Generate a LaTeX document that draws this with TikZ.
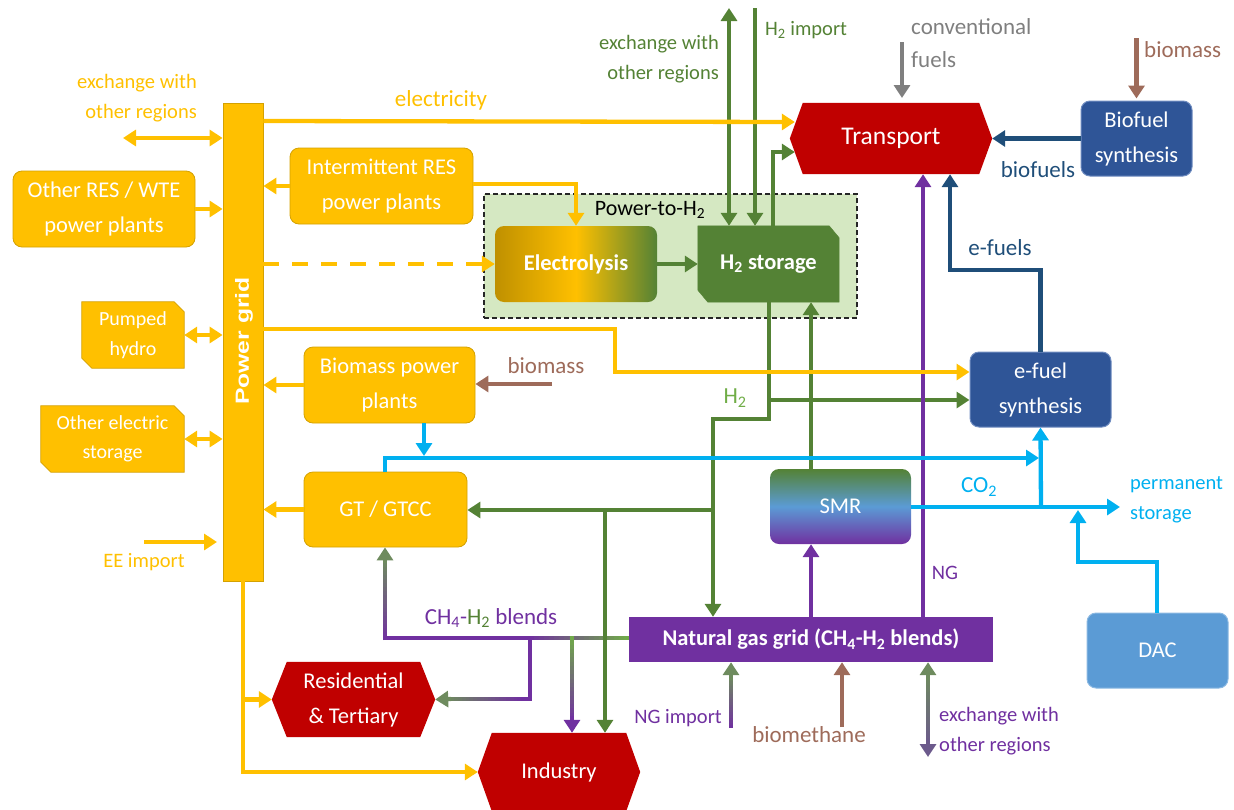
\documentclass[tikz,border=0pt]{standalone}
\usepackage{fontspec}
\setmainfont{Carlito}
\newfontfamily\gridfont{Liberation Sans}
\usetikzlibrary{arrows.meta,calc,backgrounds}

\definecolor{cYel}{HTML}{FFC000}
\definecolor{cYelD}{HTML}{D4A100}
\definecolor{cGold}{HTML}{BF9000}
\definecolor{cGrn}{HTML}{548235}
\definecolor{cGrnL}{HTML}{70AD47}
\definecolor{cGrnG}{HTML}{6E8B5E}
\definecolor{cRed}{HTML}{C00000}
\definecolor{cBlu}{HTML}{2F5597}
\definecolor{cBluL}{HTML}{6F8CC0}
\definecolor{cBluD}{HTML}{1F4E79}
\definecolor{cCya}{HTML}{00B0F0}
\definecolor{cPur}{HTML}{7030A0}
\definecolor{cPurG}{HTML}{6C5A8C}
\definecolor{cBrn}{HTML}{9E6B5A}
\definecolor{cGry}{HTML}{7F7F7F}
\definecolor{cDac}{HTML}{5B9BD5}
\definecolor{cPtH}{HTML}{D5E8C2}

\newcommand\fntBox{\fontsize{22.5}{35}\selectfont}
\newcommand\fntBoxB{\fontsize{22.5}{35}\selectfont\bfseries}
\newcommand\fntSmall{\fontsize{20}{29.5}\selectfont}
\newcommand\fntLab{\fontsize{20.5}{29.5}\selectfont}
\newcommand\fntLabB{\fontsize{23}{33}\selectfont}

% a straight stroke whose colour runs from #3 to #4
\newcommand\gradline[4]{%
  \foreach \k in {0,...,19}{%
    \pgfmathsetmacro\gA{\k/20}%
    \pgfmathsetmacro\gB{min((\k+1.4)/20,1)}%
    \pgfmathtruncatemacro\gP{100-(\k+0.5)*5}%
    \draw[line width=4.3pt,draw={#3!\gP!#4}] ($#1!\gA!#2$) -- ($#1!\gB!#2$);}}

% hexagonal outline with pointed left and right ends
\newcommand\hexfill[3]{%
  \fill[#3] (#1.west) -- ([xshift=#2]#1.north west) -- ([xshift=-#2]#1.north east)
    -- (#1.east) -- ([xshift=-#2]#1.south east) -- ([xshift=#2]#1.south west) -- cycle;}

% box with the top-right and bottom-left corners cut off
\newcommand\cutfill[4]{%
  \filldraw[#4] (#1.north west) -- ([xshift=-#2]#1.north east) -- ([yshift=-#3]#1.north east)
    -- (#1.south east) -- ([xshift=#2]#1.south west) -- ([yshift=#3]#1.south west) -- cycle;}

\tikzset{
  flow/.style={line width=4.3pt,-{Triangle[length=13pt,width=16pt]}},
  dflow/.style={line width=4.3pt,{Triangle[length=13pt,width=16pt]}-{Triangle[length=13pt,width=16pt]}},
  seg/.style={line width=4.3pt},
  rbox/.style={rounded corners=9pt,text=white,align=center,font=\fntBox,inner sep=0pt},
  ybox/.style={rbox,fill=cYel,draw=cYelD,line width=0.8pt},
  bbox/.style={rbox,fill=cBlu,draw=cBluL,line width=1pt},
  sbox/.style={text=white,align=center,inner sep=0pt,font=\fntBox},
  lab/.style={font=\fntLab,align=center,inner sep=0pt},
  labB/.style={font=\fntLabB,align=center,inner sep=0pt},
}

\begin{document}
\begin{tikzpicture}[x=1pt,y=-1pt]
\useasboundingbox (0,0) rectangle (1234,809);

% ---------- nodes ----------
\node[fill=cYel,draw=cYelD,line width=0.8pt,minimum width=40pt,minimum height=478pt,inner sep=0pt] (pg) at (243,342) {};
\node[text=white,rotate=90,inner sep=0pt,font=\gridfont\bfseries\fontsize{19}{19}\selectfont] (pglab) at (244,341) {\scalebox{1.3}[1]{Power grid}};

\node[ybox,minimum width=182pt,minimum height=76pt] (ores) at (104,209) {Other RES / WTE\\power plants};
\node[ybox,minimum width=183pt,minimum height=76pt] (irp) at (381.5,186) {Intermittent RES\\power plants};
\node[ybox,minimum width=171pt,minimum height=76pt] (bpp) at (389.5,385) {Biomass power\\plants};
\node[ybox,minimum width=163pt,minimum height=75pt] (gt) at (385.5,509.5) {GT / GTCC};
\node[sbox,font=\fntSmall,minimum width=102pt,minimum height=66pt] (ph) at (133,335) {Pumped\\hydro};
\node[sbox,font=\fntSmall,minimum width=143pt,minimum height=66pt] (oes) at (112.5,439) {Other electric\\storage};

\node[rbox,font=\fntBoxB,left color=cGold,right color=cGrn,middle color=cYel,minimum width=162pt,minimum height=76pt] (ely) at (576,264) {Electrolysis};
\node[sbox,font=\fntBoxB,minimum width=141pt,minimum height=76pt] (h2s) at (768.5,264) {H\textsubscript{2} storage};

\node[sbox,font=\fontsize{25.5}{30}\selectfont,minimum width=202pt,minimum height=71pt] (tr) at (891,138.5) {Transport};
\node[bbox,minimum width=111pt,minimum height=75pt] (bfs) at (1136.5,138.5) {Biofuel\\synthesis};
\node[bbox,minimum width=141pt,minimum height=75pt] (efs) at (1040.5,389.5) {e-fuel\\synthesis};
\node[rbox,top color=cGrn,bottom color=cPur,middle color=cDac,minimum width=141pt,minimum height=75pt] (smr) at (840.5,506.5) {SMR};
\node[rbox,fill=cDac,draw=cDac!70!white,line width=1pt,minimum width=141pt,minimum height=75pt] (dac) at (1157.5,650.5) {DAC};
\node[fill=cPur,text=white,font=\fntBoxB,minimum width=364pt,minimum height=45pt,inner sep=0pt] (ngg) at (811,639.5) {Natural gas grid (CH\textsubscript{4}-H\textsubscript{2} blends)};
\node[sbox,minimum width=163pt,minimum height=75pt] (rt) at (353.5,699.5) {Residential\\\& Tertiary};
\node[sbox,minimum width=162pt,minimum height=78pt] (ind) at (559,772) {Industry};

% ---------- labels ----------
\node[lab,text=cYel,anchor=east,align=right] (lExY) at (197,98) {exchange with\\other regions};
\node[labB,text=cYel] (lElec) at (441,100) {electricity};
\node[lab,text=cYel] (lEE) at (144,562) {EE import};
\node[lab,text=cGrn,anchor=east,align=right] (lExG) at (719,59) {exchange with\\other regions};
\node[lab,text=cGrn,anchor=west] (lH2imp) at (765,30) {H\textsubscript{2} import};
\node[font=\fontsize{22}{25}\selectfont,inner sep=0pt] (lPtH) at (650,210) {Power-to-H\textsubscript{2}};
\node[labB,text=cGry,anchor=west,align=left] (lConv) at (911,43.5) {conventional\\fuels};
\node[labB,text=cBrn,anchor=west] (lBio1) at (1144,50) {biomass};
\node[labB,text=cBluD] (lBiof) at (1038,170) {biofuels};
\node[labB,text=cBluD] (lEf) at (1000,248) {e-fuels};
\node[labB,text=cGrnL] (lH2) at (735,398) {H\textsubscript{2}};
\node[labB,text=cBrn] (lBio2) at (546,366) {biomass};
\node[labB,text=cCya] (lCO2) at (979,487) {CO\textsubscript{2}};
\node[lab,text=cCya,anchor=west,align=left] (lPerm) at (1130,500) {permanent\\storage};
\node[lab,text=cPur] (lNG) at (945,573) {NG};
\node[labB] (lBlend) at (491,618) {\textcolor{cPur}{CH\textsubscript{4}-}\textcolor{cGrn}{H\textsubscript{2}} \textcolor{cPur}{blends}};
\node[lab,text=cPur,anchor=east] (lNGimp) at (722,718) {NG import};
\node[labB,text=cBrn] (lBiom) at (809,735) {biomethane};
\node[lab,text=cPur,anchor=west,align=left] (lExP) at (939,731) {exchange with\\other regions};

% ---------- named end points ----------
\coordinate (trIn1) at ([xshift=5pt,yshift=16.5pt]tr.west);
\coordinate (trIn2) at ([xshift=5pt,yshift=-13.5pt]tr.west);

% ---------- hydrogen (green) ----------
\draw[flow,cGrn] (ely.east) -- (h2s.west);
\draw[dflow,cGrn] (729,8) -- (h2s.north -| 729,0);
\draw[flow,cGrn] (755,8) -- (h2s.north -| 755,0);
\draw[flow,cGrn] (h2s.north -| 773,0) -- (773,152) -- (trIn2);
\draw[flow,cGrn] (h2s.south -| 769,0) -- (769,419) -- (713,419) -- (ngg.north -| 713,0);
\draw[flow,cGrn] (769,400) -- (efs.west |- 0,400);
\draw[flow,cGrn] (smr.north -| 811,0) -- (h2s.south -| 811,0);
\draw[flow,cGrn] (713,510) -- (gt.east |- 0,510);

% ---------- CH4-H2 blends ----------
\gradline{(629,638)}{(529,638)}{cGrnL}{cPur}
\draw[seg,cPur] (531,638) -- (383,638);
\gradline{(385,640)}{(385,559)}{cPur}{cGrnG}
\draw[flow,cGrnG] (385,563) -- (gt.south -| 385,0);
\draw[seg,cPur] (530,638) -- (530,699) -- (519,699);
\gradline{(521,699)}{(447,699)}{cPur}{cGrnG}
\draw[flow,cGrnG] (451,699) -- (rt.east);
\gradline{(572,636)}{(572,721)}{cGrnL}{cPur}
\draw[flow,cPur] (572,716) -- (ind.north -| 572,0);
\draw[flow,cGrn] (605,510) -- (ind.north -| 605,0);

% ---------- natural gas (purple) ----------
\draw[flow,cPur] (ngg.north -| 811,0) -- (smr.south -| 811,0);
\draw[flow,cPur] (ngg.north -| 923,0) -- (tr.south -| 923,0);
\gradline{(731,728)}{(731,676)}{cPur}{cGrnG}
\draw[flow,cGrnG] (731,680) -- (ngg.south -| 731,0);
\gradline{(928,674)}{(928,745)}{cGrnG}{cPurG}
\draw[flow,cGrnG] (928,680) -- (ngg.south -| 928,0);
\draw[flow,cPurG] (928,740) -- (928,757);
\draw[flow,cBrn] (842,727) -- (ngg.south -| 842,0);

% ---------- electricity (yellow) ----------
\draw[dflow,cYel] (123,138) -- (pg.west |- 0,138);
\draw[flow,cYel] (ores.east) -- (ores.east -| pg.west);
\draw[flow,cYel] (irp.west) -- (irp.west -| pg.east);
\draw[dflow,cYel] (ph.east) -- (ph.east -| pg.west);
\draw[dflow,cYel] (oes.east) -- (oes.east -| pg.west);
\draw[flow,cYel] (bpp.west) -- (bpp.west -| pg.east);
\draw[flow,cYel] (gt.west) -- (gt.west -| pg.east);
\draw[flow,cYel] (144,542) -- (217,542);
\draw[flow,cYel] (pg.east |- 0,121) -- (trIn1);
\draw[flow,cYel] ([yshift=2pt]irp.east) -| (ely.north);
\draw[flow,cYel,dash pattern=on 16pt off 13pt] (pg.east |- ely.west) -- (ely.west);
\draw[flow,cYel] (pg.east |- 0,329) -- (615,329) -- (615,372) -- (efs.west |- 0,372);
\draw[flow,cYel] (pg.south) -- (pg.south |- ind.west) -- (ind.west);
\draw[flow,cYel] (pg.south |- rt.west) -- (rt.west);

% ---------- CO2 (cyan) ----------
\draw[flow,cCya] (bpp.south -| 424,0) -- (424,456);
\draw[flow,cCya] (gt.north -| 385,0) -- (385,458) -- (1039,458);
\draw[flow,cCya] (smr.east |- 0,507) -- (1120,507);
\draw[flow,cCya] (1041,507) -- (efs.south);
\draw[flow,cCya] (dac.north -| 1157,0) -- (1157,562) -- (1078,562) -- (1078,510);

% ---------- fuels ----------
\draw[flow,cBluD] (bfs.west) -- (tr.east);
\draw[flow,cBluD] (efs.north) -- (1040.5,270) -- (950,270) -- (tr.south -| 950,0);
\draw[flow,cBrn] (1136.5,38) -- ([yshift=2pt]bfs.north);
\draw[flow,cBrn] (552,384) -- (bpp.east |- 0,384);
\draw[flow,cGry] (902,42) -- (902,98);

% ---------- shapes behind the texts ----------
\begin{scope}[on background layer]
  \node[draw=black!85,line width=1.3pt,dash pattern=on 5pt off 3pt,fill=cPtH,minimum width=373pt,minimum height=124pt,inner sep=0pt] (pth) at (670.5,256) {};
  \cutfill{h2s}{10pt}{12pt}{fill=cGrn,draw=cGrn}
  \cutfill{ph}{10pt}{10pt}{fill=cYel,draw=cYelD,line width=0.8pt}
  \cutfill{oes}{10pt}{10pt}{fill=cYel,draw=cYelD,line width=0.8pt}
  \hexfill{tr}{13pt}{cRed}
  \hexfill{rt}{15pt}{cRed}
  \hexfill{ind}{14pt}{cRed}
\end{scope}
\end{tikzpicture}
\end{document}
